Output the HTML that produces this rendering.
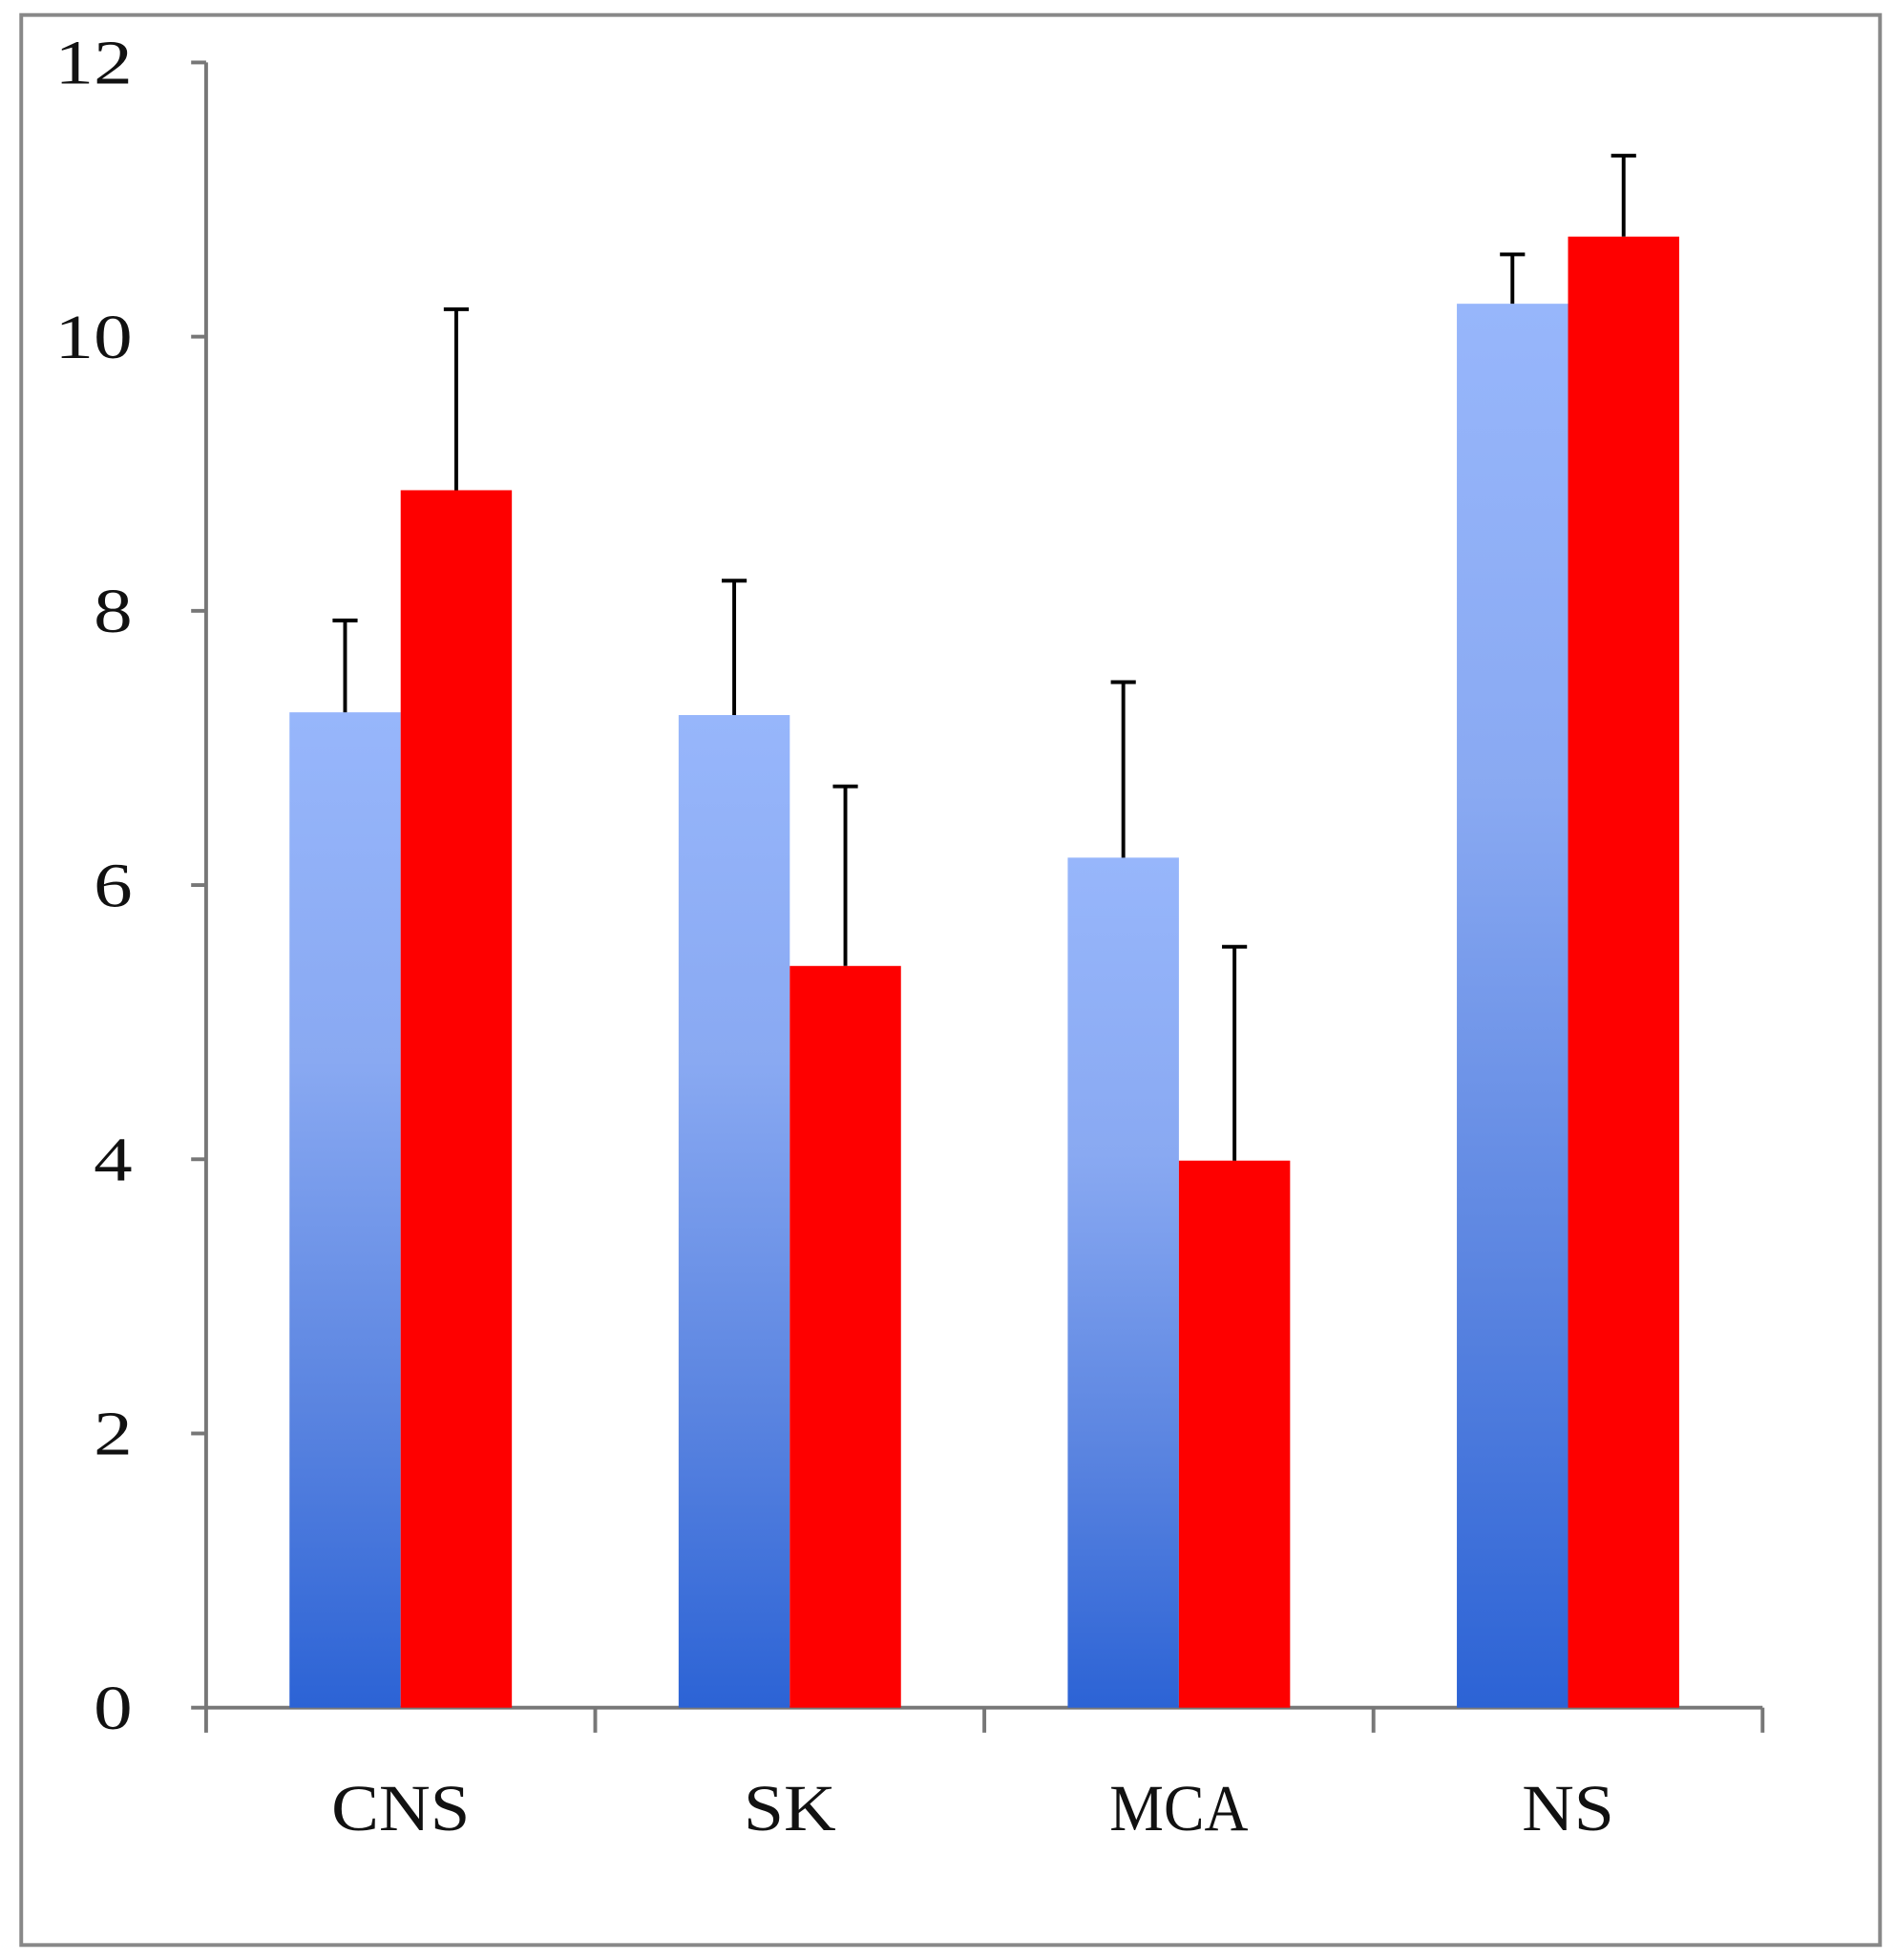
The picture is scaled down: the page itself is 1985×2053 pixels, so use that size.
<!DOCTYPE html>
<html><head><meta charset="utf-8"><style>html,body{margin:0;padding:0;background:#fff}svg{display:block}</style></head>
<body>
<svg id="chart" width="1985" height="2053" viewBox="0 0 1517 1569" preserveAspectRatio="none" xmlns="http://www.w3.org/2000/svg">
<defs>
<linearGradient id="blueGrad" x1="0" y1="0" x2="0" y2="1">
<stop offset="0" stop-color="#97b6fb"/>
<stop offset="0.35" stop-color="#89a9f2"/>
<stop offset="0.7" stop-color="#5a84e0"/>
<stop offset="1" stop-color="#2c63d5"/>
</linearGradient>
</defs>
<rect x="17" y="12" width="1488" height="1545" fill="#fff" stroke="#888" stroke-width="3"/>
<g id="axes"></g>
<g id="bars"></g>
</svg>
<script>
const categories = ["CNS", "SK", "MCA", "NS"];
const blueValues = [7.26, 7.24, 6.2, 10.24];
const blueErrors = [7.93, 8.22, 7.48, 10.6];
const redValues = [8.88, 5.41, 3.99, 10.73];
const redErrors = [10.2, 6.72, 5.55, 11.32];
const yTicks = [0, 2, 4, 6, 8, 10, 12];

const NS = "http://www.w3.org/2000/svg";
const x0 = 165, x1 = 1411, yBase = 1367, yTop = 50, yMax = 12;
const groupW = (x1 - x0) / categories.length;
const barW = 89;
function yScale(v){ return yBase - (yBase - yTop) * v / yMax; }
function xCenter(i){ return x0 + groupW * (i + 0.5); }
function mk(tag, attrs, parent){ const e = document.createElementNS(NS, tag); for (const k in attrs) e.setAttribute(k, attrs[k]); parent.appendChild(e); return e; }

const axes = document.getElementById('axes');
const bars = document.getElementById('bars');
const axisColor = "#777";

const yAxis = mk('line', {x1: x0, y1: yTop, x2: x0, y2: yBase, stroke: axisColor, 'stroke-width': 3}, axes);


const xAxis = mk('line', {x1: x0, y1: yBase, x2: x1, y2: yBase, stroke: axisColor, 'stroke-width': 3}, axes);



yTicks.forEach(t => {
  const y = yScale(t);
  const tk = mk('line', {x1: x0 - 12, y1: y, x2: x0, y2: y, stroke: axisColor, 'stroke-width': 3}, axes);
  
  
  const s = String(t);
  const lb = mk('text', {x: 106, y: y + 17, 'text-anchor': 'end', 'font-family': '"Liberation Serif", serif', 'font-size': 50, fill: '#111', textLength: s.length * 31, lengthAdjust: 'spacingAndGlyphs'}, axes);
  lb.textContent = s;
  
  
});

for (let i = 0; i <= categories.length; i++) {
  const x = x0 + groupW * i;
  const tk = mk('line', {x1: x, y1: yBase, x2: x, y2: yBase + 20, stroke: axisColor, 'stroke-width': 3}, axes);
  
  
}

categories.forEach((c, i) => {
  const cx = xCenter(i);
  const lb = mk('text', {x: cx, y: 1465, 'text-anchor': 'middle', 'font-family': '"Liberation Serif", serif', 'font-size': 53, fill: '#111', textLength: c.length * 37, lengthAdjust: 'spacingAndGlyphs'}, axes);
  lb.textContent = c;
  
  

  const series = [
    {v: blueValues[i], e: blueErrors[i], x: cx - barW, fill: 'url(#blueGrad)', name: 'bar-blue-' + c.toLowerCase()},
    {v: redValues[i], e: redErrors[i], x: cx, fill: '#fe0000', name: 'bar-red-' + c.toLowerCase()}
  ];
  series.forEach(s => {
    const yt = yScale(s.v);
    const r = mk('rect', {x: s.x, y: yt, width: barW, height: yBase - yt, fill: s.fill}, bars);
    
    
    const bx = s.x + barW / 2;
    const ye = yScale(s.e);
    const el = mk('line', {x1: bx, y1: yt, x2: bx, y2: ye, stroke: '#000', 'stroke-width': 3}, bars);
    
    
    const cap = mk('line', {x1: bx - 10, y1: ye, x2: bx + 10, y2: ye, stroke: '#000', 'stroke-width': 3}, bars);
    
    
  });
});
</script>
</body></html>
